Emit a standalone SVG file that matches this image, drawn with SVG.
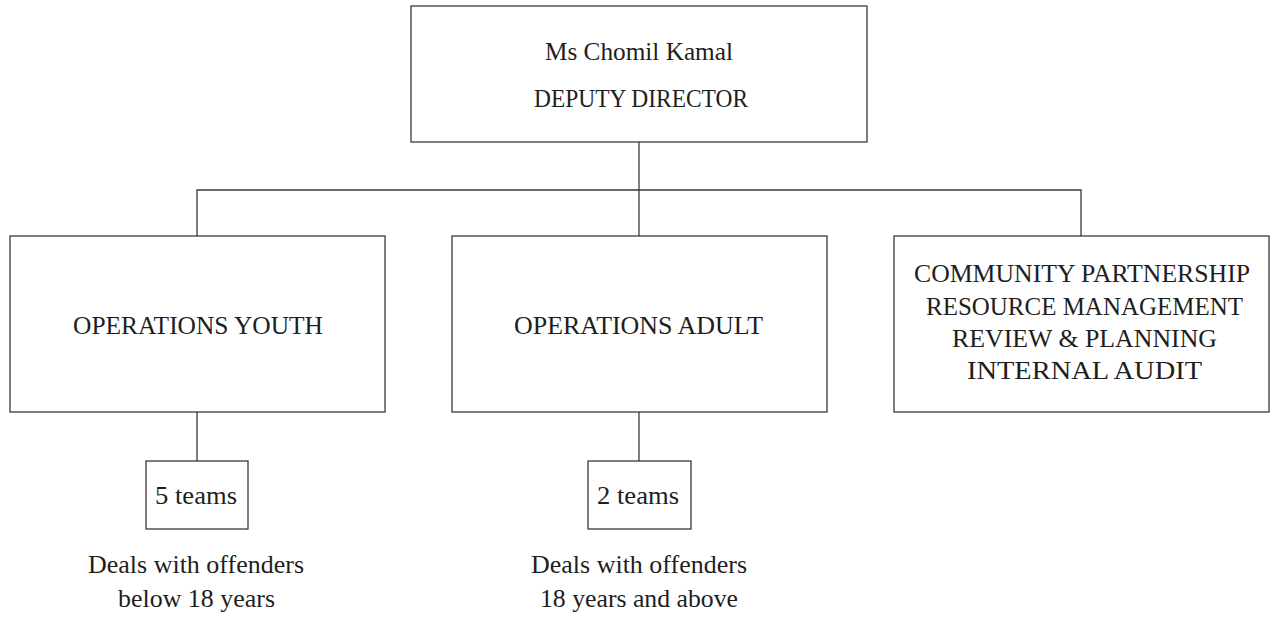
<svg xmlns="http://www.w3.org/2000/svg" width="1277" height="619" viewBox="0 0 1277 619">
<style>
.box{fill:#fff;stroke:#3a3a3a;stroke-width:1.3}
.ln{fill:none;stroke:#3a3a3a;stroke-width:1.3}
text{font-family:"Liberation Serif","Times New Roman",serif;font-size:26px;fill:#1e1e1e;text-anchor:middle}
</style>
<rect width="1277" height="619" fill="#fff"/>
<g id="connectors">
<line class="ln" x1="639" y1="142" x2="639" y2="236"/>
<polyline class="ln" points="197,236 197,190 1081,190 1081,236"/>
<line class="ln" x1="197" y1="412" x2="197" y2="461"/>
<line class="ln" x1="639" y1="412" x2="639" y2="461"/>
</g>
<g id="deputy-director">
<rect class="box" x="411" y="6" width="456" height="136"/>
<text x="639" y="60" textLength="188" lengthAdjust="spacingAndGlyphs">Ms Chomil Kamal</text>
<text x="641" y="107" textLength="214" lengthAdjust="spacingAndGlyphs">DEPUTY DIRECTOR</text>
</g>
<g id="operations-youth">
<rect class="box" x="10" y="236" width="375" height="176"/>
<text x="198" y="334" textLength="250" lengthAdjust="spacingAndGlyphs">OPERATIONS YOUTH</text>
</g>
<g id="operations-adult">
<rect class="box" x="452" y="236" width="375" height="176"/>
<text x="638.5" y="334" textLength="249" lengthAdjust="spacingAndGlyphs">OPERATIONS ADULT</text>
</g>
<g id="support">
<rect class="box" x="894" y="236" width="375" height="176"/>
<text x="1082" y="282" textLength="336" lengthAdjust="spacingAndGlyphs">COMMUNITY PARTNERSHIP</text>
<text x="1084.5" y="315" textLength="317" lengthAdjust="spacingAndGlyphs">RESOURCE MANAGEMENT</text>
<text x="1084.5" y="347" textLength="265" lengthAdjust="spacingAndGlyphs">REVIEW &amp; PLANNING</text>
<text x="1084.5" y="379" textLength="235" lengthAdjust="spacingAndGlyphs">INTERNAL AUDIT</text>
</g>
<g id="youth-teams">
<rect class="box" x="146" y="461" width="102" height="68"/>
<text x="196" y="504" textLength="82" lengthAdjust="spacingAndGlyphs">5 teams</text>
</g>
<g id="adult-teams">
<rect class="box" x="588" y="461" width="103" height="68"/>
<text x="638" y="504" textLength="82" lengthAdjust="spacingAndGlyphs">2 teams</text>
</g>
<g id="youth-note">
<text x="196" y="573" textLength="216" lengthAdjust="spacingAndGlyphs">Deals with offenders</text>
<text x="196.5" y="607" textLength="157" lengthAdjust="spacingAndGlyphs">below 18 years</text>
</g>
<g id="adult-note">
<text x="639" y="573" textLength="216" lengthAdjust="spacingAndGlyphs">Deals with offenders</text>
<text x="639" y="607" textLength="198" lengthAdjust="spacingAndGlyphs">18 years and above</text>
</g>
</svg>
